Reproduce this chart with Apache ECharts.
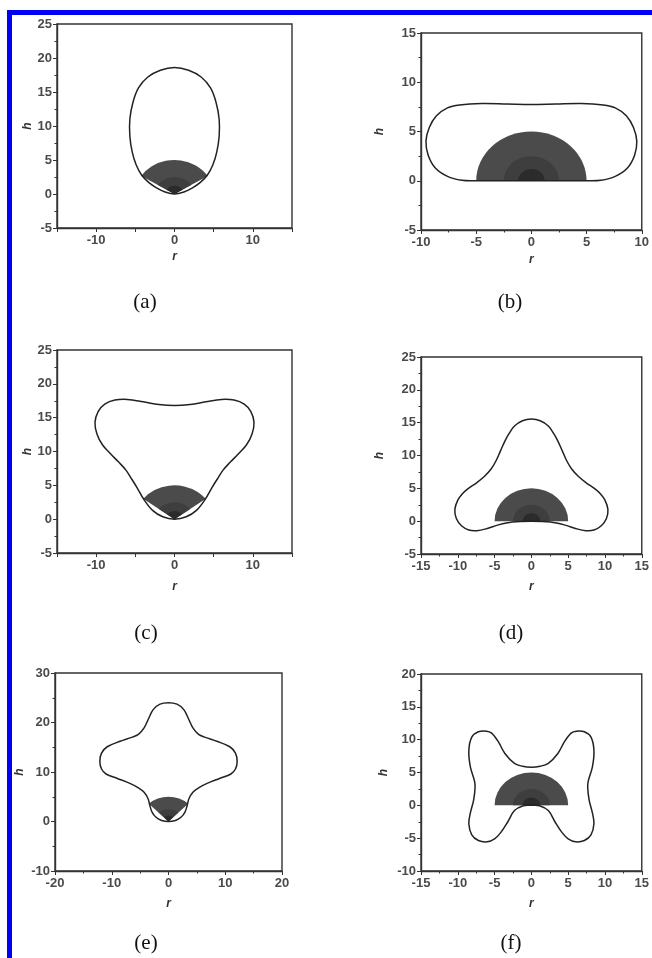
<!DOCTYPE html>
<html>
<head>
<meta charset="utf-8">
<title>Drop contours (a)-(f)</title>
<script src="https://cdn.jsdelivr.net/npm/echarts@6/dist/echarts.min.js"></script>
<style>
  html, body { margin: 0; padding: 0; background: #fff; }
  #main { width: 652px; height: 958px; }
</style>
</head>
<body>
<div id="main"></div>
<script>
// right half of every contour, from top centre round to bottom centre: [r, h]
const halfA = [[0, 18.6], [1.8, 18.2], [3.4, 17.2], [4.6, 15.6], [5.3, 13.5], [5.7, 11], [5.7, 8.5],
    [5.4, 6.2], [4.9, 4.3], [4.2, 2.8], [3.3, 1.7], [2.3, 0.9], [1.2, 0.3], [0, 0]];
const halfB = [[0, 7.75], [2.2, 7.8], [4.5, 7.85], [6.5, 7.7], [7.6, 7.4], [8.6, 6.6], [9.25, 5.4],
    [9.55, 4.0], [9.35, 2.6], [8.7, 1.3], [7.6, 0.45], [6.3, 0.05], [5, 0], [2.5, 0], [0, 0]];
const halfC = [[0, 16.8], [2, 16.95], [4, 17.35], [6, 17.7], [7.6, 17.6], [8.9, 17.0], [9.75, 15.9],
    [10.15, 14.3], [9.9, 12.6], [9.2, 11.0], [8.2, 9.7], [7.1, 8.4], [6.2, 7.25], [5.45, 5.9],
    [4.75, 4.6], [3.9, 2.9], [2.8, 1.3], [1.5, 0.35], [0, 0]];
const halfD = [[0, 15.55], [1.2, 15.3], [2.3, 14.5], [3.0, 13.4], [3.6, 12.2], [4.2, 10.7], [4.8, 9.2],
    [5.5, 7.9], [6.4, 6.8], [7.5, 5.8], [8.6, 4.95], [9.4, 4.15], [10.0, 3.2], [10.4, 1.8],
    [10.2, 0.4], [9.5, -0.7], [8.5, -1.35], [7.4, -1.45], [6.1, -1.15], [4.6, -0.6], [2.6, -0.12], [0, 0]];
const halfE = [[0, 24.0], [1.5, 23.7], [2.7, 22.6], [3.5, 20.8], [4.3, 18.9], [5.3, 17.6], [6.5, 17.0],
    [8.5, 16.2], [10.8, 15.1], [11.8, 13.8], [12.1, 12.1], [11.8, 10.6], [11.0, 9.6], [9.0, 8.7],
    [6.8, 7.7], [5.3, 6.8], [4.3, 5.9], [3.6, 4.6], [3.3, 3.3], [2.9, 1.9], [2.2, 0.85], [1.2, 0.2], [0, 0]];
const halfF = [[0, 5.8], [1.2, 5.95], [2.3, 6.4], [3.6, 7.9], [4.5, 9.7], [5.4, 11.0], [6.1, 11.3],
    [7.2, 11.2], [8.1, 10.4], [8.5, 8.4], [8.3, 5.9], [7.75, 3.8], [7.65, 2.8], [7.85, 0.8], [8.3, -1.2],
    [8.5, -2.8], [8.1, -4.5], [7.2, -5.35], [6.0, -5.55], [5.0, -5.1], [4.2, -4.2], [3.2, -2.5],
    [2.3, -0.8], [1.1, -0.05], [0, 0]];

// shaded cap: radius 5, with darker rings towards the centre; angular span in degrees
const ringRadius = [5, 2.5, 1.2];
const spans = [[32, 148], [0, 180], [37, 143], [0, 180], [46, 134], [0, 180]];

const captions = ['(a)', '(b)', '(c)', '(d)', '(e)', '(f)'];
const xRanges = [[-15, 15], [-10, 10], [-15, 15], [-15, 15], [-20, 20], [-15, 15]];
const yRanges = [[-5, 25], [-5, 15], [-5, 25], [-5, 25], [-10, 30], [-10, 20]];
const xSteps = [5, 5, 5, 5, 10, 5];
const ySteps = [5, 5, 5, 5, 10, 5];
const xLabelEvery = [10, 5, 10, 5, 10, 5];

const halves = [halfA, halfB, halfC, halfD, halfE, halfF];

// layout (pixels)
const grids = [
    { left: 57, top: 24, width: 235, height: 204 },
    { left: 421, top: 33, width: 225, height: 197 },
    { left: 57, top: 350, width: 235, height: 203 },
    { left: 421, top: 357, width: 226, height: 197 },
    { left: 55, top: 673, width: 227, height: 198 },
    { left: 421, top: 674, width: 226, height: 197 }
];
const hGap = [23, 35, 22, 35, 29, 31];
const rGap = [23, 24, 28, 27, 27, 27];
const captionPos = [[145, 302], [510, 302], [146, 633], [511, 633], [146, 943], [511, 943]];
const ringColor = ['#4b4b4b', '#3e3e3e', '#2b2b2b'];

// symmetric drop: mirror the right half to close the loop
function closeLoop(half) {
    const left = half.slice(1, -1).reverse().map(p => [-p[0], p[1]]);
    return half.concat(left);
}

const tickFont = { fontFamily: 'Liberation Sans', fontSize: 13, fontWeight: 'bold', color: '#4a4a4a' };
const nameFont = { fontFamily: 'Liberation Sans', fontSize: 12, fontWeight: 'bold', fontStyle: 'italic', color: '#333' };

let xAxes = [], yAxes = [], series = [], gridList = [];

halves.forEach((half, i) => {
    gridList.push(Object.assign({ show: true, borderColor: '#333', borderWidth: 1.4, backgroundColor: '#fff' }, grids[i]));
    const every = xLabelEvery[i];
    xAxes.push({
        type: 'value', gridIndex: i, min: xRanges[i][0], max: xRanges[i][1], interval: xSteps[i],
        name: 'r', nameLocation: 'middle', nameGap: rGap[i], nameTextStyle: nameFont,
        axisLine: { onZero: false, lineStyle: { color: '#333', width: 1.4 } },
        axisTick: { length: 4, lineStyle: { color: '#333' } },
        minorTick: { show: i !== 0 && i !== 2, splitNumber: 2, length: 2.5, lineStyle: { color: '#333' } },
        splitLine: { show: false },
        axisLabel: Object.assign({ margin: 6, formatter: v => (v % every === 0 ? String(v) : '') }, tickFont)
    });
    yAxes.push({
        type: 'value', gridIndex: i, min: yRanges[i][0], max: yRanges[i][1], interval: ySteps[i],
        name: 'h', nameLocation: 'middle', nameGap: hGap[i], nameTextStyle: nameFont,
        axisLine: { onZero: false, lineStyle: { color: '#333', width: 1.4 } },
        axisTick: { length: 4, lineStyle: { color: '#333' } },
        minorTick: { show: true, splitNumber: 2, length: 2.5, lineStyle: { color: '#333' } },
        splitLine: { show: false },
        axisLabel: Object.assign({ margin: 5 }, tickFont)
    });

    const span = spans[i];
    series.push({
        type: 'custom', xAxisIndex: i, yAxisIndex: i, silent: true, z: 2,
        data: ringRadius.map((r, k) => [0, 0, r, k]),
        renderItem: function (params, api) {
            const c = api.coord([api.value(0), api.value(1)]);
            const r = api.value(2);
            const sz = api.size([r, r]);
            return {
                type: 'sector', x: c[0], y: c[1], scaleY: sz[1] / sz[0],
                shape: {
                    cx: 0, cy: 0, r: sz[0], r0: 0,
                    startAngle: -span[1] * Math.PI / 180, endAngle: -span[0] * Math.PI / 180
                },
                style: { fill: ringColor[api.value(3)] }
            };
        }
    });

    const loop = closeLoop(half);
    series.push({
        type: 'custom', xAxisIndex: i, yAxisIndex: i, silent: true, z: 3,
        data: loop,
        renderItem: function (params, api) {
            if (params.dataIndex !== 0) return null;
            return {
                type: 'polygon',
                shape: { points: loop.map(p => api.coord(p)), smooth: 0.35 },
                style: { fill: 'none', stroke: '#222', lineWidth: 1.5 }
            };
        }
    });
});

const graphics = [
    { type: 'rect', shape: { x: 7, y: 10, width: 645, height: 5 }, style: { fill: '#0000f2' }, z: 10 },
    { type: 'rect', shape: { x: 7, y: 10, width: 5, height: 948 }, style: { fill: '#0000f2' }, z: 10 }
];
captions.forEach((t, i) => {
    graphics.push({
        type: 'text', x: captionPos[i][0], y: captionPos[i][1], z: 10,
        style: { text: t, fontFamily: 'Liberation Serif', fontSize: 21, fill: '#111', align: 'center', verticalAlign: 'middle' }
    });
});

const chart = echarts.init(document.getElementById('main'));
chart.setOption({
    backgroundColor: '#fff',
    animation: false,
    grid: gridList,
    xAxis: xAxes,
    yAxis: yAxes,
    series: series,
    graphic: graphics
});
</script>
</body>
</html>
